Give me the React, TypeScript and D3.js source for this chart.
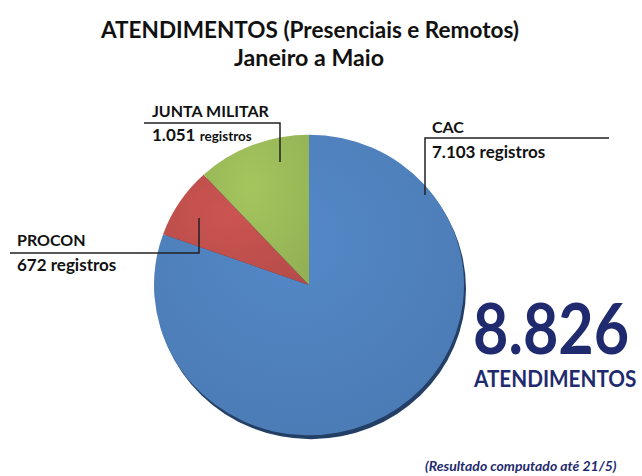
import React from "react";
import * as d3 from "d3";

const categories = ["CAC", "PROCON", "JUNTA MILITAR"];
const values = [7103, 672, 1051];
const valueLabels = ["7.103", "672", "1.051"];
const colors = ["#4F81BD", "#C0504D", "#9BBB59"];
const totalLabel = "8.826";

const W = 642;
const H = 476;
const cx = 309;
const cy = 285;
const R = 155;

export default function App() {
  const pie = d3.pie<number>().sort(null).startAngle(0).endAngle(2 * Math.PI);
  const arcs = pie(values);
  const arc = d3.arc<d3.PieArcDatum<number>>().innerRadius(0).outerRadius(R);
  const font = "Lato, 'Open Sans', sans-serif";
  const navy = "#1F2B6E";

  return (
    <svg width={W} height={H} style={{ position: "absolute", left: 0, top: 0, background: "#fff" }}>
      <defs>
        {colors.map((c, i) => (
          <radialGradient key={i} id={`g${i}`} cx="45%" cy="35%" r="75%">
            <stop offset="0%" stopColor={d3.color(c)!.brighter(0.15).toString()} />
            <stop offset="100%" stopColor={d3.color(c)!.darker(0.15).toString()} />
          </radialGradient>
        ))}
      </defs>
      <text x={310} y={38} textAnchor="middle" fontFamily={font} fontWeight="bold" fontSize={22} fill="#111" textLength={418} lengthAdjust="spacingAndGlyphs">
        ATENDIMENTOS (Presenciais e Remotos)
      </text>
      <text x={309} y={66} textAnchor="middle" fontFamily={font} fontWeight="bold" fontSize={22} fill="#111" textLength={150} lengthAdjust="spacingAndGlyphs">
        Janeiro a Maio
      </text>

      <g transform={`translate(${cx},${cy}) scale(1,0.97)`}>
        <ellipse cx={2} cy={4} rx={R} ry={R} fill="#243F66" />
        {arcs.map((a, i) => (
          <path key={i} d={arc(a)!} fill={`url(#g${i})`} />
        ))}
      </g>

      {/* leader lines */}
      <g stroke="#222" strokeWidth={1.5} fill="none">
        <polyline points="144,123 280,123 280,162" />
        <polyline points="10,253 199,253 199,218" />
        <polyline points="609,138 425,138 425,195" />
      </g>

      <g fontFamily={font} fontWeight="bold" fill="#111">
        <text x={152} y={117} fontSize={16}>{categories[2]}</text>
        <text x={152} y={141} fontSize={17}>
          {valueLabels[2]} <tspan fontSize={13.5}>registros</tspan>
        </text>
        <text x={17} y={246} fontSize={16}>{categories[1]}</text>
        <text x={17} y={271} fontSize={17}>{valueLabels[1]} registros</text>
        <text x={432} y={133} fontSize={16}>{categories[0]}</text>
        <text x={432} y={158} fontSize={17}>{valueLabels[0]} registros</text>
      </g>

      <g transform="translate(473,354) scale(0.86,1)">
        <text x={0} y={0} fontFamily={font} fontWeight="bold" fontSize={71} fill={navy}>
          {totalLabel}
        </text>
      </g>
      <g transform="translate(474,387) scale(0.9,1)">
        <text x={0} y={0} fontFamily={font} fontWeight="bold" fontSize={23} fill={navy}>
          ATENDIMENTOS
        </text>
      </g>
      <text x={425} y={471} fontFamily={font} fontWeight="bold" fontStyle="italic" fontSize={14} fill={navy}>
        (Resultado computado até 21/5)
      </text>
    </svg>
  );
}
